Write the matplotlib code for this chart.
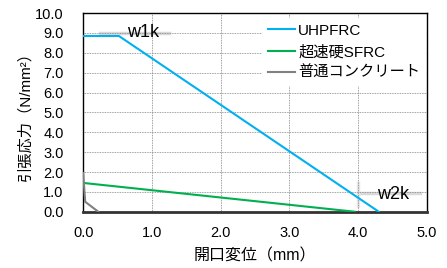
import matplotlib
matplotlib.use("Agg")
import matplotlib.pyplot as plt
from matplotlib.ticker import MultipleLocator, FormatStrFormatter

plt.rcParams['font.family'] = ['Liberation Sans', 'Noto Sans CJK JP']

# crack opening (mm) vs tensile stress (N/mm2)
uhpfrc_x = [0.0, 0.52, 4.30]
uhpfrc_y = [8.85, 8.85, 0.0]
sfrc_x = [0.0, 3.95]
sfrc_y = [1.45, 0.0]
normal_x = [0.0, 0.03, 0.22]
normal_y = [1.95, 0.5, 0.0]

# characteristic points
w1k_x, w1k_y = 0.25, 9.0
w2k_x, w2k_y = 4.0, 0.95

fig = plt.figure(figsize=(4.47, 2.68), dpi=100)
ax = fig.add_axes([0.186, 0.21, 0.769, 0.741])

ax.grid(True, color='#808080', linestyle=(0, (1, 1)), linewidth=0.6, zorder=0)

# light gray markers behind the labels
ax.plot([w1k_x, w1k_x + 1.0], [w1k_y, w1k_y], color='#d9d9d9', lw=2.5, zorder=1)
ax.plot([w2k_x, w2k_x + 0.9], [w2k_y, w2k_y], color='#d9d9d9', lw=2.5, zorder=1)
ax.plot([w2k_x, w2k_x], [0.3, 1.45], color='#e6e6e6', lw=2.5, zorder=1)

ax.plot(uhpfrc_x, uhpfrc_y, color='#00B0F0', lw=1.5, label='UHPFRC', zorder=3)
ax.plot(sfrc_x, sfrc_y, color='#00B050', lw=1.5, label='超速硬SFRC', zorder=3)
ax.plot(normal_x, normal_y, color='#808080', lw=1.5, label='普通コンクリート', zorder=3)

ax.text(0.87, 9.0, 'w1k', fontsize=13, ha='center', va='center', zorder=4)
ax.text(4.51, 0.88, 'w2k', fontsize=13, ha='center', va='center', zorder=4)

ax.set_xlim(0, 5)
ax.set_ylim(0, 10)
ax.xaxis.set_major_locator(MultipleLocator(1.0))
ax.yaxis.set_major_locator(MultipleLocator(1.0))
ax.xaxis.set_major_formatter(FormatStrFormatter('%.1f'))
ax.yaxis.set_major_formatter(FormatStrFormatter('%.1f'))
ax.tick_params(length=0, labelsize=10.5)
ax.tick_params(axis='x', pad=10)
ax.tick_params(axis='y', pad=14)

for s in ax.spines.values():
    s.set_color('black')
    s.set_linewidth(1.0)
ax.spines['bottom'].set_linewidth(2.0)
ax.spines['bottom'].set_color('#333333')

leg = ax.legend(loc='upper left', bbox_to_anchor=(0.52, 0.977), frameon=True,
                fontsize=11, handlelength=1.77, handletextpad=0.2,
                labelspacing=0.46, borderpad=0.4, borderaxespad=0)
leg.get_frame().set_edgecolor('none')
leg.get_frame().set_facecolor('white')
leg.get_frame().set_alpha(1.0)
leg.get_frame().set_boxstyle('square', pad=0)

ax.set_xlabel('開口変位（mm）', fontsize=11.5, labelpad=6)
ax.set_ylabel('引張応力（N/mm²）', fontsize=11, labelpad=2)

fig.savefig('out.png', dpi=100)
